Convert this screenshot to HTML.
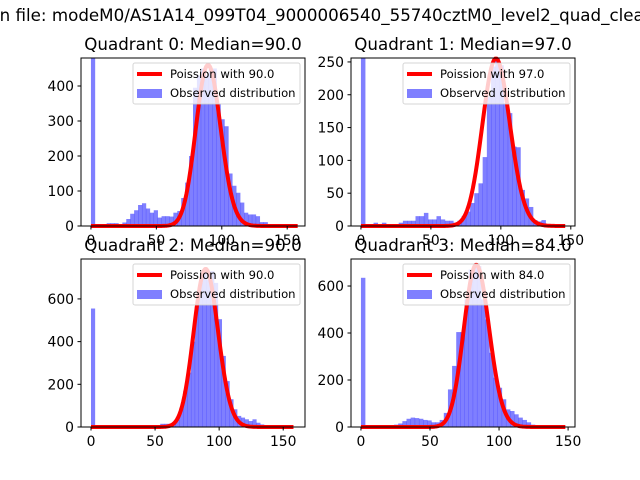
<!DOCTYPE html>
<html><head><meta charset="utf-8"><style>
body{margin:0;background:#fff}
svg{display:block;font-family:"DejaVu Sans","Liberation Sans",sans-serif}
</style></head><body>
<svg id="fig" width="640" height="480" viewBox="0 0 640 480">
<text x="-5" y="21" font-size="16.7" fill="#000">in file: modeM0/AS1A14_099T04_9000006540_55740cztM0_level2_quad_clean.evt</text>
</svg>
<script>
const binWidth=3;
const q0Counts=[2000,5,5,5,8,8,8,5,10,20,35,45,60,65,50,38,45,24,28,28,27,38,43,80,124,200,395,430,450,430,450,450,350,305,285,150,115,95,67,38,33,33,28,11,11,5,2,1,1,0,0,0,0];
const q1Counts=[1000,0,0,5,0,5,0,2,3,5,8,8,8,15,15,20,10,10,15,10,8,8,5,8,15,22,35,50,65,105,197,243,255,245,187,172,121,120,55,42,29,9,7,9,3,1,0,0,0,0];
const q2Counts=[555,0,0,0,0,0,0,0,0,0,0,0,0,0,0,0,0,0,15,15,15,20,35,90,170,255,400,565,675,740,690,730,675,505,333,215,130,83,52,44,36,28,36,20,12,5,2,1,1,0,0,0,0];
const q3Counts=[635,0,2,2,3,3,5,5,10,15,25,35,40,38,35,30,28,20,20,30,60,160,260,404,404,543,670,685,685,543,458,316,210,167,118,75,68,54,40,30,20,10,5,2,1,0,0,0,0,0];
const medians=[90.0,97.0,90.0,84.0];
const poissonPeaks=[460,255,740,690];
const yTicks=[[0,100,200,300,400],[0,50,100,150,200,250],[0,200,400,600],[0,200,400,600]];
const xTicks=[[0,50,100,150],[0,50,100,150],[0,50,100,150],[0,50,100,150]];
const panels=[
 {counts:q0Counts,L:81,T:58,W:224,H:168,x0:-7.6,x1:163.6,ymax:480,xmaxCurve:158},
 {counts:q1Counts,L:351,T:58,W:224,H:168,x0:-7.1,x1:153,ymax:256,xmaxCurve:146},
 {counts:q2Counts,L:81,T:259,W:224,H:168,x0:-7.8,x1:167,ymax:787,xmaxCurve:158},
 {counts:q3Counts,L:351,T:259,W:224,H:168,x0:-7.2,x1:155,ymax:715,xmaxCurve:148}];
const NS="http://www.w3.org/2000/svg";
const svg=document.getElementById('fig');
function mk(t,a,p){const e=document.createElementNS(NS,t);for(const k in a)e.setAttribute(k,a[k]);(p||svg).appendChild(e);return e;}
function lgam(n){let s=0;for(let i=2;i<=n;i++)s+=Math.log(i);return s;}
function pmf(k,l){return Math.exp(k*Math.log(l)-l-lgam(k));}
panels.forEach((p,i)=>{
 const g=mk('g',{});
 
 
 const xs=v=>p.L+(v-p.x0)/(p.x1-p.x0)*p.W;
 const ys=v=>p.T+p.H-Math.min(v,p.ymax*1.05)/p.ymax*p.H;
 const cid='clip'+i;
 const cp=mk('clipPath',{id:cid},g);mk('rect',{x:p.L,y:p.T,width:p.W,height:p.H},cp);
 const bars=mk('g',{'clip-path':'url(#'+cid+')'},g);
 p.counts.forEach((c,j)=>{
  if(c<=0)return;
  const a=j*binWidth;
  const b=mk('rect',{x:xs(a),y:ys(c),width:xs(a+binWidth)-xs(a)+0.3,height:p.T+p.H-ys(c),fill:'#0000ff','fill-opacity':0.5},bars);
  
  
 });
 const lam=medians[i];const sc=poissonPeaks[i]/pmf(Math.floor(lam),lam);
 let d='';for(let k=0;k<=p.xmaxCurve;k++){d+=(k?'L':'M')+xs(k).toFixed(2)+','+ys(sc*pmf(k,lam)).toFixed(2);}
 const cur=mk('path',{d:d,fill:'none',stroke:'#ff0000','stroke-width':4,'stroke-linejoin':'round'},g);
 
 
 const fr=mk('rect',{x:p.L,y:p.T,width:p.W,height:p.H,fill:'none',stroke:'#000','stroke-width':1},g);
 
 
 xTicks[i].forEach(v=>{const x=xs(v);mk('line',{x1:x,x2:x,y1:p.T+p.H,y2:p.T+p.H+3.5,stroke:'#000'},g);
  const t=mk('text',{x:x,y:p.T+p.H+19,'font-size':13.9,'text-anchor':'middle'},g);t.textContent=v;
  
  });
 yTicks[i].forEach(v=>{const y=ys(v);mk('line',{x1:p.L-3.5,x2:p.L,y1:y,y2:y,stroke:'#000'},g);
  const t=mk('text',{x:p.L-7,y:y+5,'font-size':13.9,'text-anchor':'end'},g);t.textContent=v;
  
  });
 const tt=mk('text',{x:p.L+p.W/2,y:p.T-8,'font-size':16.7,'text-anchor':'middle'},g);
 tt.textContent='Quadrant '+i+': Median='+medians[i].toFixed(1);
 
 
 const lg=mk('g',{},g);
 
 
 const lx=p.L+52,ly=p.T+5;
 mk('rect',{x:lx,y:ly,width:167,height:41,rx:2,fill:'#fff','fill-opacity':0.8,stroke:'#ccc','stroke-opacity':0.8},lg);
 mk('line',{x1:lx+4,x2:lx+29,y1:ly+11,y2:ly+11,stroke:'#ff0000','stroke-width':4},lg);
 const t1=mk('text',{x:lx+37,y:ly+15,'font-size':11.6},lg);t1.textContent='Poission with '+medians[i].toFixed(1);
 
 
 mk('rect',{x:lx+4,y:ly+26,width:25,height:9,fill:'#0000ff','fill-opacity':0.5},lg);
 const t2=mk('text',{x:lx+37,y:ly+34,'font-size':11.6},lg);t2.textContent='Observed distribution';
 
 
});
</script>
</body></html>
